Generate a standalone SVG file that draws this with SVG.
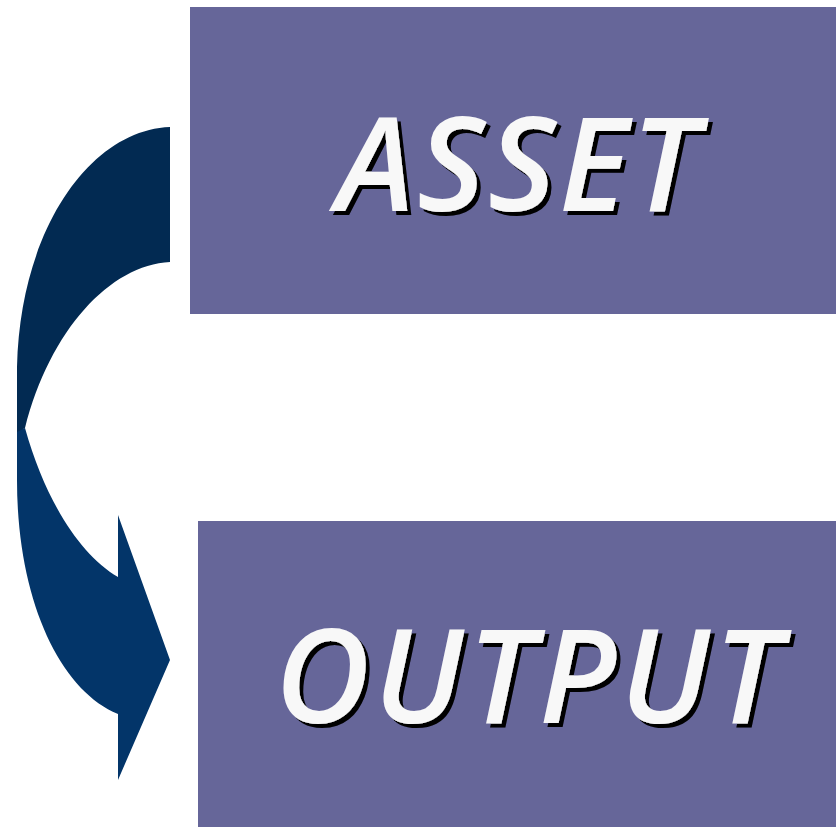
<svg xmlns="http://www.w3.org/2000/svg" width="836" height="827" viewBox="0 0 836 827">
<defs>
<filter id="shadow" x="-10%" y="-10%" width="130%" height="130%">
<feOffset in="SourceAlpha" dx="4" dy="4" result="o"/>
<feFlood flood-color="#000000"/>
<feComposite in2="o" operator="in" result="s"/>
<feMerge><feMergeNode in="s"/><feMergeNode in="SourceGraphic"/></feMerge>
</filter>
</defs>
<style>
.box{fill:#666699}
.lbl{font-family:"Open Sans","Noto Sans","DejaVu Sans",sans-serif;font-style:italic;font-weight:600;font-size:131px;text-anchor:middle;fill:#f8f8f8;filter:url(#shadow)}
</style>
<rect width="836" height="827" fill="#ffffff"/>
<g id="connectors">
<path d="M118,577 C80,555 45,500 25,428 L17,430 L17,480 C17,600 60,690 118,714 L118,780 L170,660 L118,515 Z" fill="#033569"/>
<path d="M170,127 C90,130 20,230 17,367 L17,432 L25,428 C50,330 110,265 170,262 Z" fill="#022a52"/>
</g>
<g id="asset">
<rect class="box" x="190" y="7" width="646" height="307"/>
<text class="lbl" x="519" y="211" letter-spacing="3">ASSET</text>
</g>
<g id="output">
<rect class="box" x="198" y="521" width="638" height="306"/>
<text class="lbl" x="530" y="723" letter-spacing="4">OUTPUT</text>
</g>
</svg>
